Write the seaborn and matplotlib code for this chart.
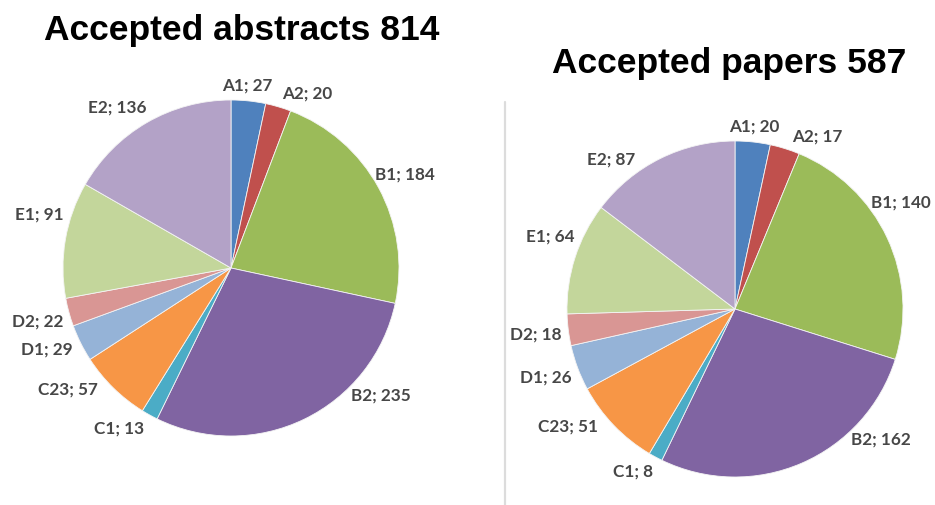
import numpy as np
import matplotlib
matplotlib.use("Agg")
import matplotlib.pyplot as plt
import seaborn as sns

# Session categories (clockwise from 12 o'clock)
categories = ["A1", "A2", "B1", "B2", "C1", "C23", "D1", "D2", "E1", "E2"]
abstracts = [27, 20, 184, 235, 13, 57, 29, 22, 91, 136]
papers = [20, 17, 140, 162, 8, 51, 26, 18, 64, 87]
titles = ["Accepted abstracts 814", "Accepted papers 587"]

palette = ["#4F81BD", "#C0504D", "#9BBB59", "#8064A2", "#4BACC6",
           "#F79646", "#95B3D7", "#D99694", "#C3D69B", "#B3A2C7"]

sns.set_theme(style="white")
plt.rcParams["font.family"] = ["Lato", "DejaVu Sans"]

W, H = 935, 506
fig = plt.figure(figsize=(W / 100, H / 100), dpi=100)
fig.patch.set_facecolor("white")

# pixel geometry of each pie: centre x, centre y (from top), radius;
# "nudge" rotates a label away from its wedge's mid-angle (degrees)
pies = [
    dict(values=abstracts, cx=231, cy=269, r=168, title=titles[0],
         tx=242, ty=40,
         nudge={"A1": -1, "A2": 7, "B2": -24, "C1": 6, "C23": 9, "D1": 3,
                "E1": 6, "E2": -5}),
    dict(values=papers, cx=735, cy=310, r=168, title=titles[1],
         tx=729, ty=73,
         nudge={"A2": 8, "B1": -8, "B2": -25, "C1": 4, "C23": 9, "D1": 1,
                "E1": 4, "E2": -13}),
]

label_kw = dict(fontsize=12.3, color="#474747", fontweight="bold")
gap = {"B1": 0.0, "B2": 0.0}
texts = []

for p in pies:
    cx, cy, r = p["cx"], p["cy"], p["r"]
    ax = fig.add_axes([(cx - r) / W, (H - cy - r) / H, 2 * r / W, 2 * r / H])
    vals = np.asarray(p["values"], dtype=float)
    ax.pie(vals, colors=palette, startangle=90, counterclock=False,
           wedgeprops=dict(edgecolor="#f4f4f4", linewidth=0.6))
    ax.set_xlim(-1, 1)
    ax.set_ylim(-1, 1)
    ax.set_aspect("auto")
    ax.axis("off")

    cum = np.cumsum(vals)
    mids = (cum - vals / 2) / vals.sum() * 360.0
    for cat, v, m in zip(categories, p["values"], mids):
        th = np.deg2rad(m + p["nudge"].get(cat, 0))
        d = np.array([np.sin(th), np.cos(th)])
        rr = 1 + gap.get(cat, 0.035)
        t = ax.annotate(f"{cat}; {v}", xy=rr * d, xytext=(0, 0),
                        textcoords="offset pixels", ha="center", va="center",
                        annotation_clip=False, **label_kw)
        texts.append((t, d))

    fig.text(p["tx"] / W, 1 - p["ty"] / H, p["title"],
             family=["Liberation Sans", "DejaVu Sans"], fontweight="bold",
             fontsize=25.5, color="black", ha="center", va="baseline")

# push each label outward so its box just touches the anchor circle
fig.canvas.draw()
rend = fig.canvas.get_renderer()
for t, d in texts:
    bb = t.get_window_extent(rend)
    s = bb.width / 2 * abs(d[0]) + bb.height / 2 * abs(d[1])
    t.xyann = (d[0] * s, d[1] * s)

# thin divider between the two charts
fig.add_artist(plt.Line2D([505 / W, 505 / W], [0, 1 - 103 / H],
                          transform=fig.transFigure, color="#dcdcdc", lw=1.6))

fig.savefig("out.png", dpi=100, facecolor="white")
